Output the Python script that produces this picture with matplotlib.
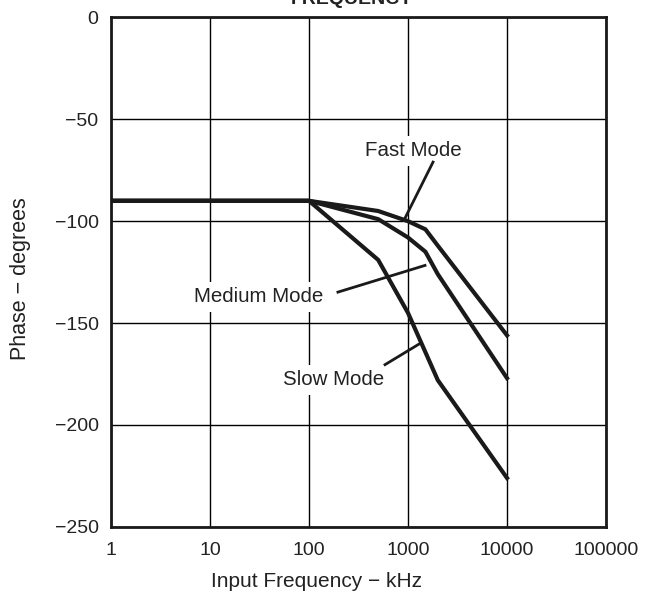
import matplotlib
matplotlib.use("Agg")
import matplotlib.pyplot as plt

# === DATA ===
FREQ_FAST = [1, 100, 500, 1000, 1500, 2000, 10000]
PHASE_FAST = [-90, -90, -95, -100, -104, -112, -156]

FREQ_MEDIUM = [1, 100, 500, 1000, 1500, 2000, 10000]
PHASE_MEDIUM = [-90, -90, -99, -108, -115, -126, -177]

FREQ_SLOW = [1, 100, 500, 1000, 2000, 10000]
PHASE_SLOW = [-90, -90, -119, -145, -178, -226]

X_TICKS = [1, 10, 100, 1000, 10000, 100000]
X_TICK_LABELS = ["1", "10", "100", "1000", "10000", "100000"]
Y_TICKS = [0, -50, -100, -150, -200, -250]

# label text, label position, leader line start, leader line end
LABELS = [
    ("Fast Mode", (1122, -65.5), (1790, -71), (933, -98.5)),
    ("Medium Mode", (31.3, -137), (196, -134.8), (1485, -121.7)),
    ("Slow Mode", (179, -177.8), (586, -170.4), (1343, -159.8)),
]

# === STYLE ===
plt.rcParams['font.family'] = ['Liberation Sans', 'DejaVu Sans']
TEXT_COLOR = "#222222"
LINE_COLOR = "#1a1a1a"

fig = plt.figure(figsize=(6.53, 5.92), dpi=100)
ax = fig.add_axes([0.170, 0.110, 0.758, 0.8606])

for f, p in [(FREQ_FAST, PHASE_FAST), (FREQ_MEDIUM, PHASE_MEDIUM), (FREQ_SLOW, PHASE_SLOW)]:
    ax.plot(f, p, color=LINE_COLOR, lw=3.0, solid_joinstyle='miter', zorder=3)

ax.set_xscale('log')
ax.set_xlim(1, 100000)
ax.set_ylim(-250, 0)
ax.set_xticks(X_TICKS)
ax.set_xticklabels(X_TICK_LABELS)
ax.minorticks_off()
ax.set_yticks(Y_TICKS)
ax.set_yticklabels([f"\u2212{abs(v)}" if v < 0 else "0" for v in Y_TICKS])
ax.tick_params(length=0, labelsize=14, labelcolor=TEXT_COLOR, pad=9)
ax.tick_params(axis='x', pad=11)
ax.grid(True, color="black", lw=1.0, zorder=1)
for s in ax.spines.values():
    s.set_linewidth(2.0)
    s.set_color(LINE_COLOR)
    s.set_zorder(4)

ax.set_xlabel("Input Frequency \u2212 kHz", fontsize=15, color=TEXT_COLOR, va='center')
ax.xaxis.set_label_coords(0.416, -0.108)
ax.set_ylabel("Phase \u2212 degrees", fontsize=15.5, color=TEXT_COLOR, va='center')
ax.yaxis.set_label_coords(-0.182, 0.487)

# labels with leader lines
for text, pos, start, end in LABELS:
    ax.text(pos[0], pos[1], text, fontsize=14.8, color=TEXT_COLOR, ha='center', va='center',
            bbox=dict(facecolor='white', edgecolor='none', pad=4), zorder=2)
    ax.plot([start[0], end[0]], [start[1], end[1]], color=LINE_COLOR, lw=2.0, zorder=3)

# title is cut off at the top in the original
fig.text(0.539, 1 - 4 / 592, "FREQUENCY", fontsize=14, fontweight='bold',
         color=TEXT_COLOR, ha='center', va='baseline')

fig.savefig("out.png", dpi=100)
